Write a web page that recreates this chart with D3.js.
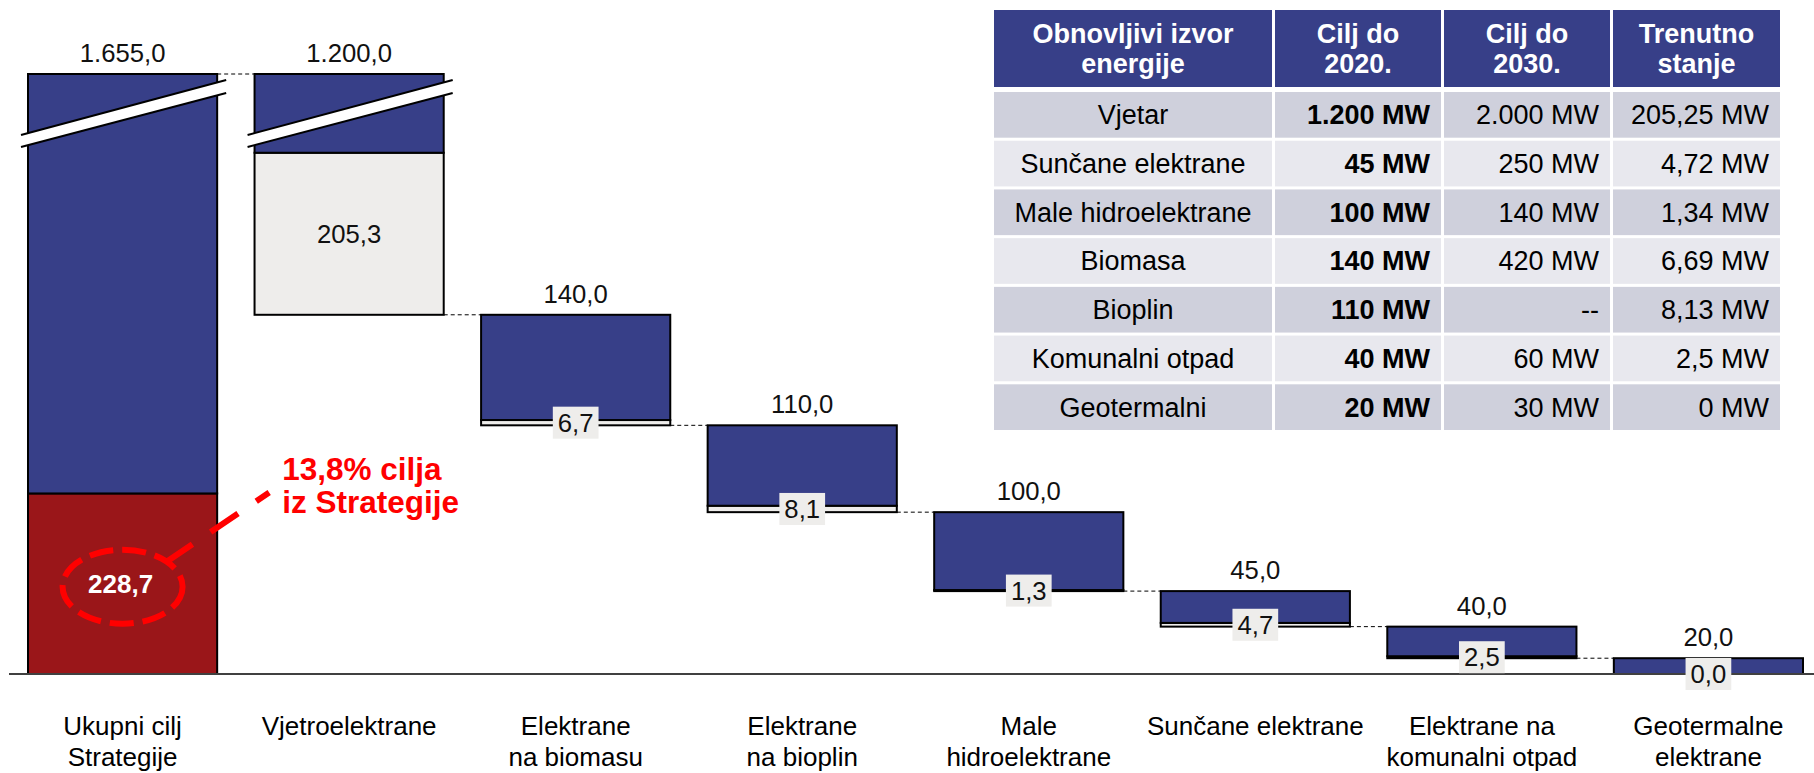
<!DOCTYPE html>
<html lang="hr">
<head>
<meta charset="UTF-8">
<title>Obnovljivi izvori energije - ciljevi Strategije</title>
<style>
  html, body { margin: 0; padding: 0; background: #fff; }
  svg { display: block; font-family: "Liberation Sans", Arial, sans-serif; }
</style>
</head>
<body>
<svg id="chart" width="1814" height="773"></svg>
<script src="https://d3js.org/d3.v7.min.js"></script>
<script>
// podaci (MW)
const categories = ["Ukupni cilj\nStrategije", "Vjetroelektrane", "Elektrane\nna biomasu", "Elektrane\nna bioplin",
    "Male\nhidroelektrane", "Sunčane elektrane", "Elektrane na\nkomunalni otpad", "Geotermalne\nelektrane"];
const target2020 = [1655, 1200, 140, 110, 100, 45, 40, 20];
const currentState = [228.7, 205.25, 6.69, 8.13, 1.34, 4.72, 2.5, 0];

const tableHeader = ["Obnovljivi izvor\nenergije", "Cilj do\n2020.", "Cilj do\n2030.", "Trenutno\nstanje"];
const tableSources = ["Vjetar", "Sunčane elektrane", "Male hidroelektrane", "Biomasa", "Bioplin", "Komunalni otpad", "Geotermalni"];
const tableTarget2020 = [1200, 45, 100, 140, 110, 40, 20];
const tableTarget2030 = [2000, 250, 140, 420, null, 60, 30];
const tableCurrent = [205.25, 4.72, 1.34, 6.69, 8.13, 2.5, 0];

const hr = d3.formatLocale({ decimal: ",", thousands: ".", grouping: [3], currency: ["", " kn"], percent: "%" });
const fmt1 = hr.format(",.1f");
const fmtInt = hr.format(",d");
const fmtTrim = hr.format(",.2~f");
const fmtPct = hr.format(".1%");

const BLUE = "#373f88", RED = "#9a1619", GREY = "#eeedeb";

const svg = d3.select("#chart");

const x = d3.scaleBand()
    .domain(categories)
    .range([28, 1803])
    .paddingInner(0.165)
    .paddingOuter(0);

// os je prekinuta - sve iznad 760 se reze
const y = d3.scaleLinear()
    .domain([0, 760])
    .range([674, 74])
    .clamp(true);

// waterfall
const bars = [];
let level = target2020[0];
categories.forEach((c, i) => {
    if (i === 0) {
        bars.push({ cat: c, base: 0, top: target2020[0], cur: currentState[0], total: true });
    } else {
        const top = level;
        level -= target2020[i];
        bars.push({ cat: c, base: level, top: top, cur: currentState[i], total: false });
    }
});

const bw = x.bandwidth();

// spojnice
for (let i = 0; i < bars.length - 1; i++) {
    svg.append("line")
        .attr("x1", x(bars[i].cat) + bw)
        .attr("x2", x(bars[i + 1].cat))
        .attr("y1", y(bars[i + 1].top))
        .attr("y2", y(bars[i + 1].top))
        .attr("stroke", "#000")
        .attr("stroke-width", 1)
        .attr("stroke-dasharray", "4,3");
}

const g = svg.append("g");

// trenutno stanje (dno stupca)
g.selectAll(".cur")
    .data(bars)
    .enter()
    .append("rect")
    .attr("class", "cur")
    .attr("x", d => x(d.cat))
    .attr("width", bw)
    .attr("y", d => y(d.base + d.cur))
    .attr("height", d => y(d.base) - y(d.base + d.cur))
    .attr("fill", d => d.total ? RED : GREY)
    .attr("stroke", "#000")
    .attr("stroke-width", 2);

// ostatak do cilja
g.selectAll(".rest")
    .data(bars)
    .enter()
    .append("rect")
    .attr("class", "rest")
    .attr("x", d => x(d.cat))
    .attr("width", bw)
    .attr("y", d => y(d.top))
    .attr("height", d => y(d.base + d.cur) - y(d.top))
    .attr("fill", BLUE)
    .attr("stroke", "#000")
    .attr("stroke-width", 2);

// oznake prekida
bars.filter(d => d.top > y.domain()[1]).forEach(d => {
    const x0 = x(d.cat) - 7, x1 = x(d.cat) + bw + 9;
    const t = y.range()[1];
    const up = [[x0, t + 61], [x1, t + 6]];
    const lo = [[x0, t + 73], [x1, t + 19]];
    svg.append("polygon")
        .attr("points", [up[0], up[1], lo[1], lo[0]].map(p => p.join(",")).join(" "))
        .attr("fill", "#fff");
    [up, lo].forEach(l => {
        svg.append("line")
            .attr("x1", l[0][0]).attr("y1", l[0][1])
            .attr("x2", l[1][0]).attr("y2", l[1][1])
            .attr("stroke", "#000")
            .attr("stroke-width", 2);
    });
});

// os x
svg.append("line")
    .attr("x1", 9)
    .attr("x2", 1814)
    .attr("y1", y(0))
    .attr("y2", y(0))
    .attr("stroke", "#404040")
    .attr("stroke-width", 2);

const axis = svg.append("g")
    .attr("transform", `translate(0,${y(0)})`)
    .call(d3.axisBottom(x).tickSize(0).tickPadding(0))
    .attr("font-size", 26)
    .attr("font-family", null);
axis.select(".domain").remove();
axis.selectAll(".tick text").each(function (d) {
    const t = d3.select(this).text(null).attr("y", 61).attr("dy", null).attr("fill", "#000");
    d.split("\n").forEach((line, k) => {
        t.append("tspan").attr("x", 0).attr("dy", k ? 31 : 0).text(line);
    });
});

// vrijednosti cilja iznad stupaca
svg.selectAll(".top-label")
    .data(bars)
    .enter()
    .append("text")
    .attr("class", "top-label")
    .attr("x", d => x(d.cat) + bw / 2)
    .attr("y", d => y(d.top) - 12)
    .attr("text-anchor", "middle")
    .attr("font-size", 25.7)
    .attr("fill", "#111")
    .text((d, i) => fmt1(target2020[i]));

// vrijednosti trenutnog stanja
bars.forEach((d, i) => {
    if (d.total) return;
    const cx = x(d.cat) + bw / 2, cy = y(d.base + d.cur / 2);
    const lg = svg.append("g");
    const box = lg.append("rect").attr("fill", GREY);
    const txt = lg.append("text")
        .attr("x", cx)
        .attr("y", cy)
        .attr("dy", "0.36em")
        .attr("text-anchor", "middle")
        .attr("font-size", 25.7)
        .attr("fill", "#111")
        .text(fmt1(d.cur));
    const bb = txt.node().getBBox();
    box.attr("x", bb.x - 5).attr("width", bb.width + 10)
        .attr("y", cy - 16).attr("height", 32);
});

// istaknuti ukupni iznos
const tot = bars[0];
const ex = x(tot.cat) + bw / 2, ey = y(tot.cur / 2);
svg.append("text")
    .attr("x", ex - 2)
    .attr("y", ey)
    .attr("dy", "0.36em")
    .attr("text-anchor", "middle")
    .attr("font-size", 26)
    .attr("font-weight", "bold")
    .attr("fill", "#fff")
    .text(fmt1(tot.cur));
svg.append("ellipse")
    .attr("cx", ex)
    .attr("cy", ey + 3)
    .attr("rx", 60)
    .attr("ry", 37)
    .attr("fill", "none")
    .attr("stroke", "#ff0000")
    .attr("stroke-width", 6)
    .attr("stroke-dasharray", "24,9");

const ax = x(tot.cat) + bw + 65, ay = y(tot.cur) - 13;
svg.append("line")
    .attr("x1", ex + 42.5).attr("y1", ey - 21)
    .attr("x2", ax - 13).attr("y2", ay + 12)
    .attr("stroke", "#ff0000")
    .attr("stroke-width", 6)
    .attr("stroke-dasharray", "33,22");
const note = svg.append("text")
    .attr("x", ax)
    .attr("y", ay)
    .attr("font-size", 31.5)
    .attr("font-weight", "bold")
    .attr("fill", "#ff0000");
note.append("tspan").attr("x", ax).text(fmtPct(tot.cur / tot.top) + " cilja");
note.append("tspan").attr("x", ax).attr("dy", 32.6).text("iz Strategije");

// tablica
const colX = [994, 1275, 1444, 1613];
const colW = [278, 166, 166, 167];
const tg = svg.append("g").attr("font-size", 27);

tableHeader.forEach((h, c) => {
    tg.append("rect")
        .attr("x", colX[c]).attr("y", 10)
        .attr("width", colW[c]).attr("height", 77)
        .attr("fill", BLUE);
    const t = tg.append("text")
        .attr("text-anchor", "middle")
        .attr("font-weight", "bold")
        .attr("fill", "#fff");
    h.split("\n").forEach((line, k) => {
        t.append("tspan")
            .attr("x", colX[c] + colW[c] / 2)
            .attr("y", 48.3 + (k ? 15 : -15))
            .attr("dy", "0.35em")
            .text(line);
    });
});

const rowY = d3.scaleBand()
    .domain(d3.range(tableSources.length))
    .range([92, 430])
    .paddingInner(0.062);

tableSources.forEach((s, r) => {
    const cells = [
        s,
        fmtInt(tableTarget2020[r]) + " MW",
        tableTarget2030[r] == null ? "--" : fmtInt(tableTarget2030[r]) + " MW",
        fmtTrim(tableCurrent[r]) + " MW"
    ];
    cells.forEach((v, c) => {
        tg.append("rect")
            .attr("x", colX[c]).attr("y", rowY(r))
            .attr("width", colW[c]).attr("height", rowY.bandwidth())
            .attr("fill", r % 2 === 0 ? "#cfd0dc" : "#e8e8ee");
        tg.append("text")
            .attr("x", c === 0 ? colX[c] + colW[c] / 2 : colX[c] + colW[c] - 11)
            .attr("y", rowY(r) + rowY.bandwidth() / 2)
            .attr("dy", "0.35em")
            .attr("text-anchor", c === 0 ? "middle" : "end")
            .attr("font-weight", c === 1 ? "bold" : null)
            .attr("fill", "#000")
            .text(v);
    });
});
</script>
</body>
</html>
